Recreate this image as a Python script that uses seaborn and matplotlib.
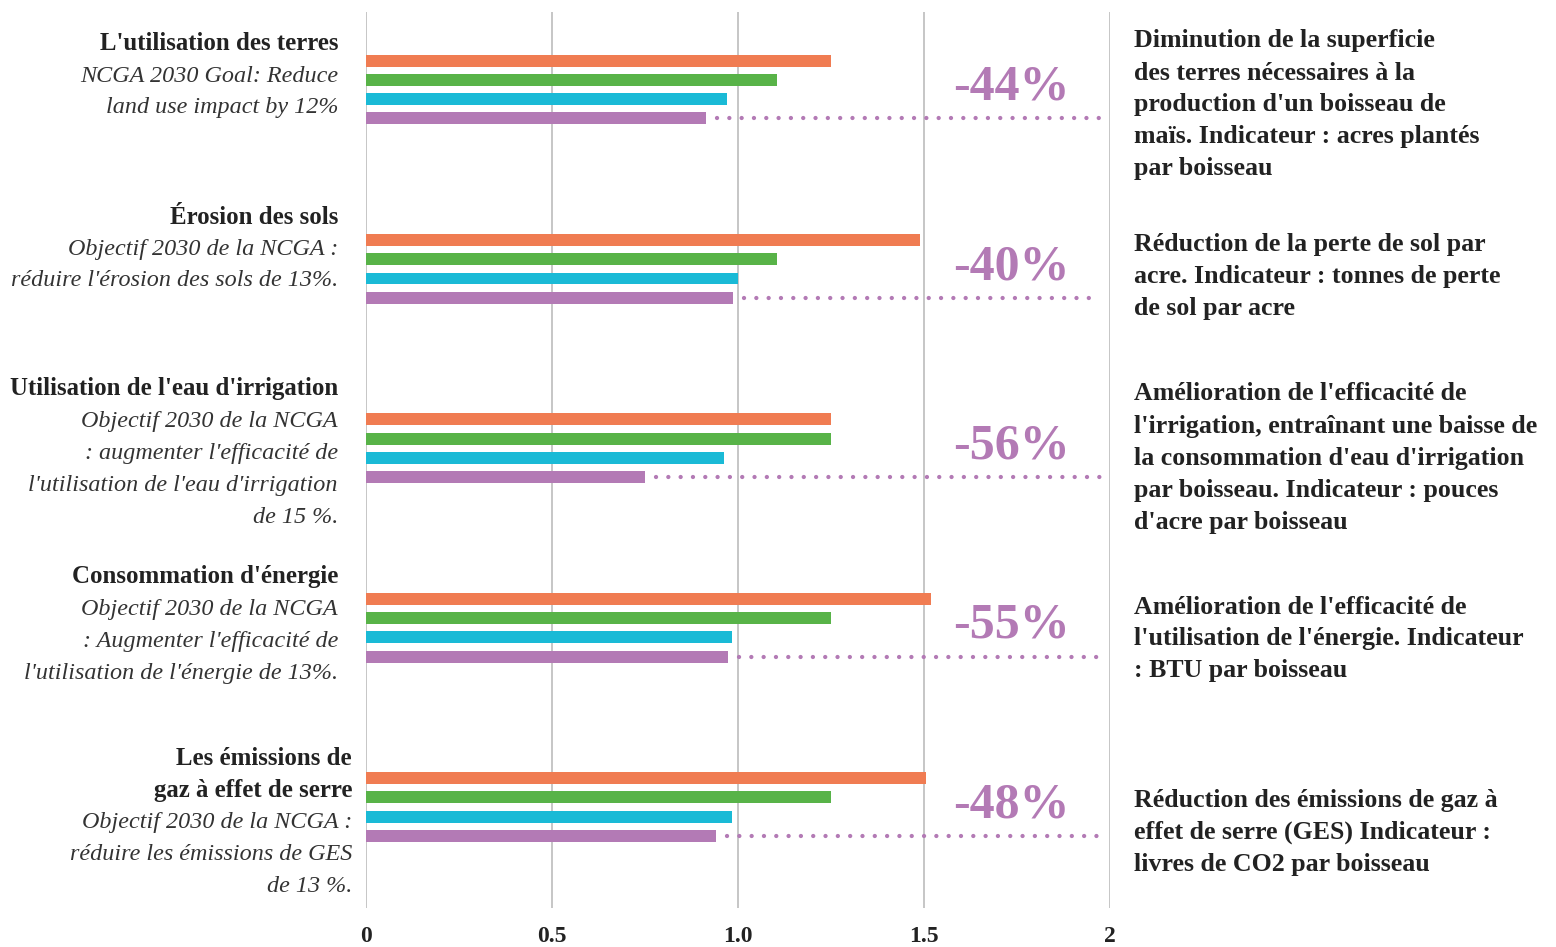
import pandas as pd
import matplotlib.pyplot as plt
import seaborn as sns

# Data
groups = ["Terres", "Sols", "Eau", "Énergie", "GES"]
series = ["A", "B", "C", "D"]
orange = [1.25, 1.49, 1.25, 1.52, 1.505]
green = [1.105, 1.105, 1.25, 1.25, 1.25]
cyan = [0.97, 1.0, 0.962, 0.985, 0.985]
purple = [0.914, 0.987, 0.75, 0.973, 0.94]
changes = ["-44%", "-40%", "-56%", "-55%", "-48%"]

left_titles = [
    ["L'utilisation des terres"],
    ["Érosion des sols"],
    ["Utilisation de l'eau d'irrigation"],
    ["Consommation d'énergie"],
    ["Les émissions de", "gaz à effet de serre"],
]
left_subs = [
    ["NCGA 2030 Goal: Reduce", "land use impact by 12%"],
    ["Objectif 2030 de la NCGA :", "réduire l'érosion des sols de 13%."],
    ["Objectif 2030 de la NCGA", ": augmenter l'efficacité de",
     "l'utilisation de l'eau d'irrigation", "de 15 %."],
    ["Objectif 2030 de la NCGA", ": Augmenter l'efficacité de",
     "l'utilisation de l'énergie de 13%."],
    ["Objectif 2030 de la NCGA :", "réduire les émissions de GES", "de 13 %."],
]
right_notes = [
    "Diminution de la superficie\ndes terres nécessaires à la\nproduction d'un boisseau de\nmaïs. Indicateur : acres plantés\npar boisseau",
    "Réduction de la perte de sol par\nacre. Indicateur : tonnes de perte\nde sol par acre",
    "Amélioration de l'efficacité de\nl'irrigation, entraînant une baisse de\nla consommation d'eau d'irrigation\npar boisseau. Indicateur : pouces\nd'acre par boisseau",
    "Amélioration de l'efficacité de\nl'utilisation de l'énergie. Indicateur\n: BTU par boisseau",
    "Réduction des émissions de gaz à\neffet de serre (GES) Indicateur :\nlivres de CO2 par boisseau",
]

colors = ["#F07C52", "#58B348", "#1ABAD6", "#B37AB5"]
PURPLE = "#B37AB5"

df = pd.DataFrame({"group": groups * 4,
                   "series": [s for s in series for _ in groups],
                   "value": orange + green + cyan + purple})

sns.set_style("white")
plt.rcParams['font.family'] = ['Liberation Serif', 'DejaVu Serif']

W, H = 1556, 947
fig = plt.figure(figsize=(W / 100, H / 100), dpi=100)
ax = fig.add_axes([366 / W, 1 - 908 / H, (1110 - 366) / W, (908 - 12) / H])

bar_w = 0.43
sns.barplot(data=df, x="value", y="group", hue="series", hue_order=series,
            palette=colors, saturation=1, orient="h", width=bar_w, gap=0.38,
            linewidth=0, legend=False, ax=ax)

ax.set_xlim(0, 2)
ax.set_ylim(4.563, -0.432)
ax.set_xticks([0, 0.5, 1.0, 1.5, 2])
ax.set_xticklabels(["0", "0.5", "1.0", "1.5", "2"], fontsize=17, fontweight="bold",
                   color="#222222")
ax.tick_params(axis="x", length=0, pad=13)
ax.set_yticks([])
ax.set_xlabel("")
ax.set_ylabel("")
for s in ax.spines.values():
    s.set_visible(False)
ax.grid(axis="x", color="#c6c6c6", linewidth=1.4)
ax.set_axisbelow(True)

# dotted leader from purple bar + percentage labels
off = bar_w / 2 - bar_w / 8
for i, (v, lab) in enumerate(zip(purple, changes)):
    ax.plot([v + 0.03, 1.975], [i + off, i + off], color=PURPLE, linewidth=3.1,
            linestyle=(0, (0.01, 2.85)), dash_capstyle="round")
    ax.text(1.735, i - 0.01, lab, color=PURPLE, fontsize=36, fontweight="bold",
            ha="center", va="center")


def fy(px):
    return 1 - px / H


# left labels (pixel line positions from reference)
left_tops = [44, 217, 389, 577, 758]
left_x = [338, 338, 338, 338, 352]
for i in range(5):
    y = left_tops[i]
    for t in left_titles[i]:
        fig.text(left_x[i] / W, fy(y), t, ha="right", va="center", fontsize=17.9,
                 fontweight="bold", color="#222222")
        y += 32
    for t in left_subs[i]:
        fig.text(left_x[i] / W, fy(y), t, ha="right", va="center", fontsize=17.4,
                 style="italic", color="#333333")
        y += 32

# right notes
right_tops = [41, 244, 394, 607, 800]
for i, note in enumerate(right_notes):
    y = right_tops[i]
    for line in note.split("\n"):
        fig.text(1134 / W, fy(y), line, ha="left", va="center", fontsize=18.6,
                 fontweight="bold", color="#222222")
        y += 32

fig.savefig("out.png", dpi=100)
